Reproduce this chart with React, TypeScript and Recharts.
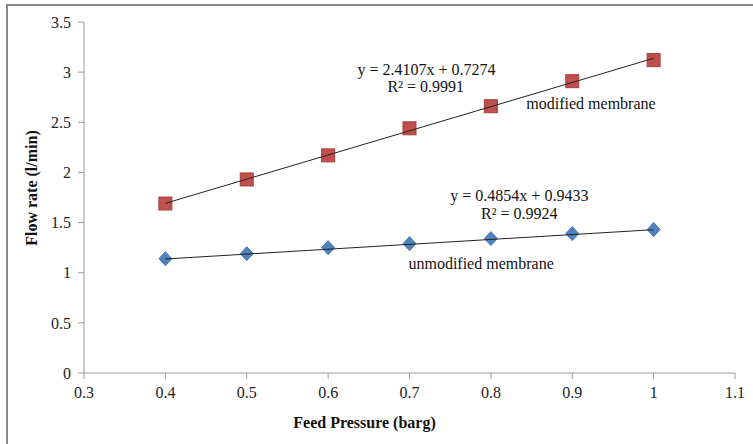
import React from 'react';
import { ComposedChart, Scatter, XAxis, YAxis, ReferenceDot, Label } from 'recharts';

const pressure = [0.4, 0.5, 0.6, 0.7, 0.8, 0.9, 1.0];
const modifiedFlow = [1.69, 1.93, 2.17, 2.44, 2.66, 2.91, 3.12];
const unmodifiedFlow = [1.14, 1.19, 1.25, 1.29, 1.34, 1.39, 1.43];
const trendX = [0.4, 1.0];
const modifiedTrendY = [1.692, 3.138];
const unmodifiedTrendY = [1.137, 1.429];
const xTicks = [0.3, 0.4, 0.5, 0.6, 0.7, 0.8, 0.9, 1.0, 1.1];
const yTicks = [0, 0.5, 1, 1.5, 2, 2.5, 3, 3.5];
const annotationText = [
  'y = 2.4107x + 0.7274',
  'R² = 0.9991',
  'modified membrane',
  'y = 0.4854x + 0.9433',
  'R² = 0.9924',
  'unmodified membrane',
];
const annotationX = [0.721, 0.72, 0.923, 0.835, 0.835, 0.788];
const annotationY = [3.031, 2.855, 2.692, 1.775, 1.592, 1.094];

const FONT = '"Liberation Serif", "Times New Roman", serif';

const modifiedData = pressure.map((x, i) => ({ x, y: modifiedFlow[i] }));
const unmodifiedData = pressure.map((x, i) => ({ x, y: unmodifiedFlow[i] }));
const modifiedTrend = trendX.map((x, i) => ({ x, y: modifiedTrendY[i] }));
const unmodifiedTrend = trendX.map((x, i) => ({ x, y: unmodifiedTrendY[i] }));

const Square = (p: any) => {
  const s = 6.5;
  return (
    <rect x={p.cx - s} y={p.cy - s} width={2 * s} height={2 * s} fill="#C0504D" stroke="#A83E3B" strokeWidth={1} />
  );
};

const Diamond = (p: any) => {
  const w = 6.5;
  const h = 7;
  return (
    <path
      d={`M${p.cx},${p.cy - h} L${p.cx + w},${p.cy} L${p.cx},${p.cy + h} L${p.cx - w},${p.cy} Z`}
      fill="#4F81BD"
      stroke="#4575B0"
      strokeWidth={1}
    />
  );
};

const NoShape = () => <g />;

const fmtX = (v: number) => String(Number(v.toFixed(1)));
const fmtY = (v: number) => String(Number(v.toFixed(1)));

export default function App() {
  return (
    <div
      style={{
        position: 'fixed',
        left: 0,
        top: 0,
        width: 753,
        height: 444,
        overflow: 'hidden',
        background: '#fff',
      }}
    >
      <div
        style={{
          position: 'absolute',
          left: 6,
          top: 4,
          width: 760,
          height: 460,
          borderLeft: '2px solid #8a8a8a',
          borderTop: '2px solid #8a8a8a',
        }}
      />
      <div style={{ position: 'absolute', left: 0, top: 0 }}>
        <ComposedChart width={753} height={444} margin={{ top: 22, right: 18, left: 0, bottom: 41 }}>
          <XAxis
            type="number"
            dataKey="x"
            domain={[0.3, 1.1]}
            ticks={xTicks}
            tickFormatter={fmtX}
            height={30}
            stroke="#9a9a9a"
            tickSize={6}
            tickMargin={8}
            tick={{ fill: '#222', fontSize: 16, fontFamily: FONT }}
            allowDecimals
          >
            <Label
              content={(props: any) => {
                const vb = props.viewBox || {};
                return (
                  <text
                    x={vb.x + vb.width / 2 - 45}
                    y={422}
                    textAnchor="middle"
                    dominantBaseline="central"
                    fontFamily={FONT}
                    fontWeight="bold"
                    fontSize={16}
                    fill="#111"
                  >
                    Feed Pressure (barg)
                  </text>
                );
              }}
            />
          </XAxis>
          <YAxis
            type="number"
            dataKey="y"
            domain={[0, 3.5]}
            ticks={yTicks}
            tickFormatter={fmtY}
            width={84}
            stroke="#9a9a9a"
            tickSize={6}
            tickMargin={7}
            tick={{ fill: '#222', fontSize: 16, fontFamily: FONT }}
          >
            <Label
              content={() => (
                <text
                  x={31}
                  y={188}
                  transform="rotate(-90 31 188)"
                  textAnchor="middle"
                  dominantBaseline="central"
                  fontFamily={FONT}
                  fontWeight="bold"
                  fontSize={16}
                  fill="#111"
                >
                  Flow rate (l/min)
                </text>
              )}
            />
          </YAxis>
          <Scatter data={modifiedData} shape={Square} isAnimationActive={false} />
          <Scatter data={unmodifiedData} shape={Diamond} isAnimationActive={false} />
          <Scatter
            data={modifiedTrend}
            shape={NoShape}
            line={{ stroke: '#222', strokeWidth: 1 }}
            isAnimationActive={false}
          />
          <Scatter
            data={unmodifiedTrend}
            shape={NoShape}
            line={{ stroke: '#222', strokeWidth: 1 }}
            isAnimationActive={false}
          />
          {annotationText.map((t, i) => (
            <ReferenceDot
              key={t}
              x={annotationX[i]}
              y={annotationY[i]}
              r={0}
              stroke="none"
              fill="none"
              label={{
                value: t,
                position: 'center',
                fontFamily: FONT,
                fontSize: 16,
                fill: '#111',
              }}
            />
          ))}
        </ComposedChart>
      </div>
    </div>
  );
}
